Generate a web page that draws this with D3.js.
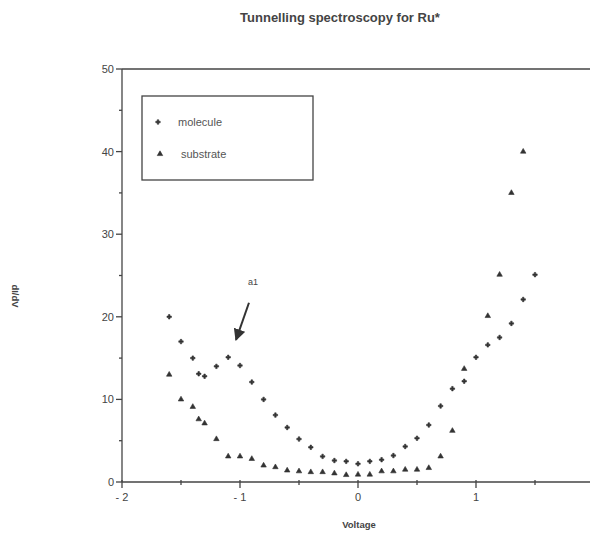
<!DOCTYPE html>
<head>
  <meta charset="utf-8">
  <script src="https://d3js.org/d3.v7.min.js"></script>
  <style>
    body { margin: 0; background: #fff; }
    text { font-family: "Liberation Sans", Arial, sans-serif; fill: #444; }
    .title { font-size: 13px; font-weight: bold; text-anchor: middle; }
    .axis-label { font-size: 9.5px; font-weight: bold; text-anchor: middle; }
    .tick-label { font-size: 11px; }
    .legend text { font-size: 11px; fill: #555; }
    .frame { stroke: #444; stroke-width: 1.3; fill: none; }
    .mark { fill: #333; stroke: #333; }
  </style>
</head>
<body>
<div id="chart"></div>
<script>
// dI/dV tunnelling spectra
var voltMolecule = [-1.6, -1.5, -1.4, -1.35, -1.3, -1.2, -1.1, -1.0, -0.9, -0.8, -0.7, -0.6, -0.5, -0.4, -0.3, -0.2, -0.1,
                    0.0, 0.1, 0.2, 0.3, 0.4, 0.5, 0.6, 0.7, 0.8, 0.9, 1.0, 1.1, 1.2, 1.3, 1.4, 1.5];
var dIdVMolecule = [20, 17, 15, 13.1, 12.8, 14, 15.1, 14.1, 12.1, 10, 8.1, 6.6, 5.2, 4.2, 3.1, 2.6, 2.5,
                    2.2, 2.5, 2.7, 3.2, 4.3, 5.3, 6.9, 9.2, 11.3, 12.2, 15.1, 16.6, 17.5, 19.2, 22.1, 25.1];

var voltSubstrate = [-1.6, -1.5, -1.4, -1.35, -1.3, -1.2, -1.1, -1.0, -0.9, -0.8, -0.7, -0.6, -0.5, -0.4, -0.3, -0.2, -0.1,
                     0.0, 0.1, 0.2, 0.3, 0.4, 0.5, 0.6, 0.7, 0.8, 0.9, 1.1, 1.2, 1.3, 1.4];
var dIdVSubstrate = [13, 10, 9.1, 7.6, 7.1, 5.2, 3.1, 3.1, 2.8, 2.0, 1.8, 1.4, 1.3, 1.2, 1.2, 1.05, 0.85,
                     0.9, 0.9, 1.3, 1.3, 1.5, 1.5, 1.7, 3.1, 6.2, 13.7, 20.1, 25.1, 35, 40];

var xMajor = [-2, -1, 0, 1, 2];
var xMinor = [-1.5, -0.5, 0.5, 1.5];
var yMajor = [0, 10, 20, 30, 40, 50];
var yMinor = [5, 15, 25, 35, 45];

var width = 590, height = 560;

var svg = d3.select("#chart").append("svg")
    .attr("width", width)
    .attr("height", height);

var x = d3.scaleLinear().domain([-2, 2]).range([122, 594]);
var y = d3.scaleLinear().domain([0, 50]).range([482, 69]);

// title and axis names
svg.append("text").attr("class", "title")
    .attr("x", 340).attr("y", 22)
    .text("Tunnelling spectroscopy for Ru*");

svg.append("text").attr("class", "axis-label")
    .attr("x", 359).attr("y", 528)
    .text("Voltage");

svg.append("text").attr("class", "axis-label")
    .attr("transform", "translate(12,296) rotate(90)")
    .text("dI/dV");

// frame: left axis, bottom axis, top line
svg.append("line").attr("class", "frame")
    .attr("x1", x(-2)).attr("x2", x(-2)).attr("y1", y(0)).attr("y2", y(50));
svg.append("line").attr("class", "frame")
    .attr("x1", x(-2)).attr("x2", width).attr("y1", y(0)).attr("y2", y(0));
svg.append("line").attr("class", "frame")
    .attr("x1", x(-2)).attr("x2", width).attr("y1", y(50)).attr("y2", y(50));

// y ticks
svg.selectAll(".ytick").data(yMajor).enter().append("line")
    .attr("class", "frame")
    .attr("x1", x(-2) - 6).attr("x2", x(-2))
    .attr("y1", function(d) { return y(d); })
    .attr("y2", function(d) { return y(d); });
svg.selectAll(".ytickm").data(yMinor).enter().append("line")
    .attr("class", "frame")
    .attr("x1", x(-2) - 3).attr("x2", x(-2))
    .attr("y1", function(d) { return y(d); })
    .attr("y2", function(d) { return y(d); });
svg.selectAll(".ylab").data(yMajor).enter().append("text")
    .attr("class", "tick-label")
    .attr("text-anchor", "end")
    .attr("x", x(-2) - 8)
    .attr("y", function(d) { return y(d) + 4; })
    .text(function(d) { return d; });

// x ticks
svg.selectAll(".xtick").data(xMajor).enter().append("line")
    .attr("class", "frame")
    .attr("x1", function(d) { return x(d); })
    .attr("x2", function(d) { return x(d); })
    .attr("y1", y(0) - 2).attr("y2", y(0) + 6);
svg.selectAll(".xtickm").data(xMinor).enter().append("line")
    .attr("class", "frame")
    .attr("x1", function(d) { return x(d); })
    .attr("x2", function(d) { return x(d); })
    .attr("y1", y(0) - 2).attr("y2", y(0) + 3);
svg.selectAll(".xlab").data(xMajor).enter().append("text")
    .attr("class", "tick-label")
    .attr("text-anchor", "middle")
    .attr("x", function(d) { return x(d); })
    .attr("y", y(0) + 19)
    .text(function(d) { return d < 0 ? "- " + Math.abs(d) : d; });

// markers
var cross = d3.symbol().type(d3.symbolCross).size(11);
var tri = d3.symbol().type(d3.symbolTriangle).size(13);

svg.selectAll(".mol").data(voltMolecule).enter().append("path")
    .attr("class", "mark")
    .attr("stroke-width", 0.6)
    .attr("d", cross)
    .attr("transform", function(d, i) {
      return "translate(" + x(d) + "," + y(dIdVMolecule[i]) + ")";
    });

svg.selectAll(".sub").data(voltSubstrate).enter().append("path")
    .attr("class", "mark")
    .attr("stroke-width", 0.6)
    .attr("d", tri)
    .attr("transform", function(d, i) {
      return "translate(" + x(d) + "," + y(dIdVSubstrate[i]) + ")";
    });

// annotation a1 with arrow
svg.append("defs").append("marker")
    .attr("id", "arrow")
    .attr("viewBox", "0 0 10 10")
    .attr("refX", 9).attr("refY", 5)
    .attr("markerWidth", 6).attr("markerHeight", 6)
    .attr("orient", "auto")
  .append("path")
    .attr("d", "M0,0 L10,5 L0,10 Z")
    .attr("fill", "#333");

svg.append("line")
    .attr("x1", x(-0.924)).attr("y1", y(21.7))
    .attr("x2", x(-1.034)).attr("y2", y(17.2))
    .attr("stroke", "#333").attr("stroke-width", 2)
    .attr("marker-end", "url(#arrow)");

svg.append("text")
    .attr("x", x(-0.89)).attr("y", y(23.8))
    .attr("text-anchor", "middle")
    .style("font-size", "9px")
    .text("a1");

// legend box
var legend = svg.append("g").attr("class", "legend");
legend.append("rect")
    .attr("class", "frame")
    .attr("x", 142).attr("y", 96)
    .attr("width", 171).attr("height", 84);

legend.append("path").attr("class", "mark").attr("stroke-width", 0.6)
    .attr("d", cross).attr("transform", "translate(158,122)");
legend.append("text").attr("x", 178).attr("y", 126).text("molecule");

legend.append("path").attr("class", "mark").attr("stroke-width", 0.6)
    .attr("d", tri).attr("transform", "translate(160,154)");
legend.append("text").attr("x", 181).attr("y", 158).text("substrate");
</script>
</body>
